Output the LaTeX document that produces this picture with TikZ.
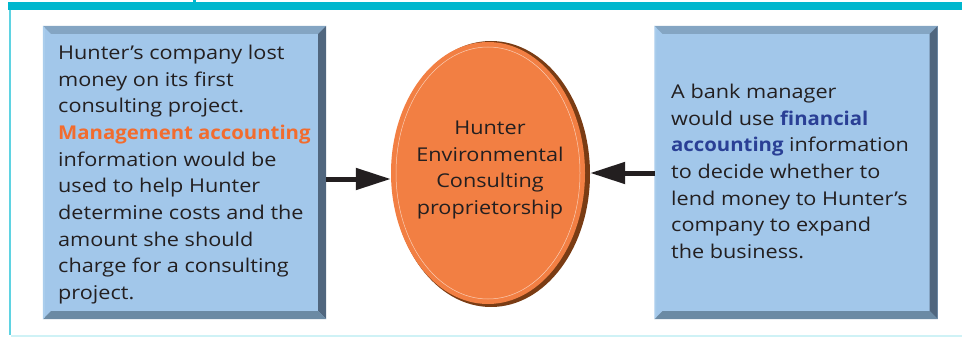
\documentclass[tikz,border=0pt]{standalone}
\usepackage{fontspec}
\setmainfont{Open Sans}[FakeStretch=1.14, BoldFeatures={FakeStretch=1.07}]
\usetikzlibrary{arrows.meta,shapes.geometric,calc}
\definecolor{teal1}{HTML}{00B7CE}
\definecolor{teal2}{HTML}{5FD3E2}
\definecolor{cyanl}{HTML}{CFF2F6}
\definecolor{face}{HTML}{A2C7EA}
\definecolor{bevT}{HTML}{84A5C3}
\definecolor{bevR}{HTML}{50667E}
\definecolor{bevB}{HTML}{6B8AA4}
\definecolor{bevL}{HTML}{AACDEC}
\definecolor{orng}{HTML}{F27F43}
\definecolor{rim}{HTML}{7A3C14}
\definecolor{ink}{HTML}{231F20}
\definecolor{orgtxt}{HTML}{F26C2E}
\definecolor{bluetxt}{HTML}{2A3F95}
\tikzset{
  boxnode/.style={rectangle, inner sep=0pt, minimum width=283pt, minimum height=293pt, fill=face},
  bodytext/.style={anchor=base west, inner sep=0pt, align=left, text=ink,
    font=\fontsize{19}{26.67}\selectfont},
  centertext/.style={anchor=base, inner sep=0pt, align=center, text=ink,
    font=\fontsize{19}{26.67}\selectfont},
  arr/.style={line width=5pt, draw=ink, -{Triangle[length=35pt,width=21pt]}},
}
\newcommand{\bevelbox}[1]{%
  \fill[bevT] (#1.north west) -- (#1.north east) -- ([shift={(-8,8)}]#1.north east) -- ([shift={(8,8)}]#1.north west) -- cycle;
  \fill[bevR] (#1.north east) -- (#1.south east) -- ([shift={(-8,-8)}]#1.south east) -- ([shift={(-8,8)}]#1.north east) -- cycle;
  \fill[bevB] (#1.south east) -- (#1.south west) -- ([shift={(8,-8)}]#1.south west) -- ([shift={(-8,-8)}]#1.south east) -- cycle;
  \fill[bevL] (#1.south west) -- (#1.north west) -- ([shift={(2,2)}]#1.north west) -- ([shift={(2,-2)}]#1.south west) -- cycle;
}
\begin{document}
\begin{tikzpicture}[x=1pt,y=-1pt]
\useasboundingbox (0,0) rectangle (962,337);
% frame
\fill[teal1] (8,2.5) rectangle (962,10);
\fill[teal1] (193,0) rectangle (196,3);
\fill[teal2] (8.5,10) rectangle (10.5,335);
\fill[cyanl] (10.5,334.5) rectangle (962,337);
% boxes
\node[boxnode] (L) at (184.5,172.5) {};
\bevelbox{L}
\node[boxnode] (R) at (796,172.5) {};
\bevelbox{R}
% ellipse
\node[ellipse, fill=rim, inner sep=0pt, minimum width=198pt, minimum height=266pt] (Es) at (491,174) {};
\node[ellipse, fill=orng, inner sep=0pt, minimum width=194pt, minimum height=262pt] (E) at (488,173) {};
\draw[white!60!orng, line width=0.5pt] (488,173) ellipse [x radius=92, y radius=126];
% texts (base anchor = last line baseline)
\node[bodytext] (Lt) at (58,299.5) {Hunter’s company lost\\money on its first\\consulting project.\\{\bfseries\color{orgtxt}Management accounting}\\information would be\\used to help Hunter\\determine costs and the\\amount she should\\charge for a consulting\\project.};
\node[centertext] (Et) at (490,214.5) {Hunter\\Environmental\\Consulting\\proprietorship};
\node[bodytext] (Rt) at (671,258.5) {A bank manager\\would use {\bfseries\color{bluetxt}financial}\\{\bfseries\color{bluetxt}accounting} information\\to decide whether to\\lend money to Hunter’s\\company to expand\\the business.};
% arrows
\coordinate (la) at (326,179);
\coordinate (ra) at (655,173);
\draw[arr] (la) -- (la -| E.west);
\draw[arr] (ra) -- (ra -| Es.east);
\end{tikzpicture}
\end{document}
